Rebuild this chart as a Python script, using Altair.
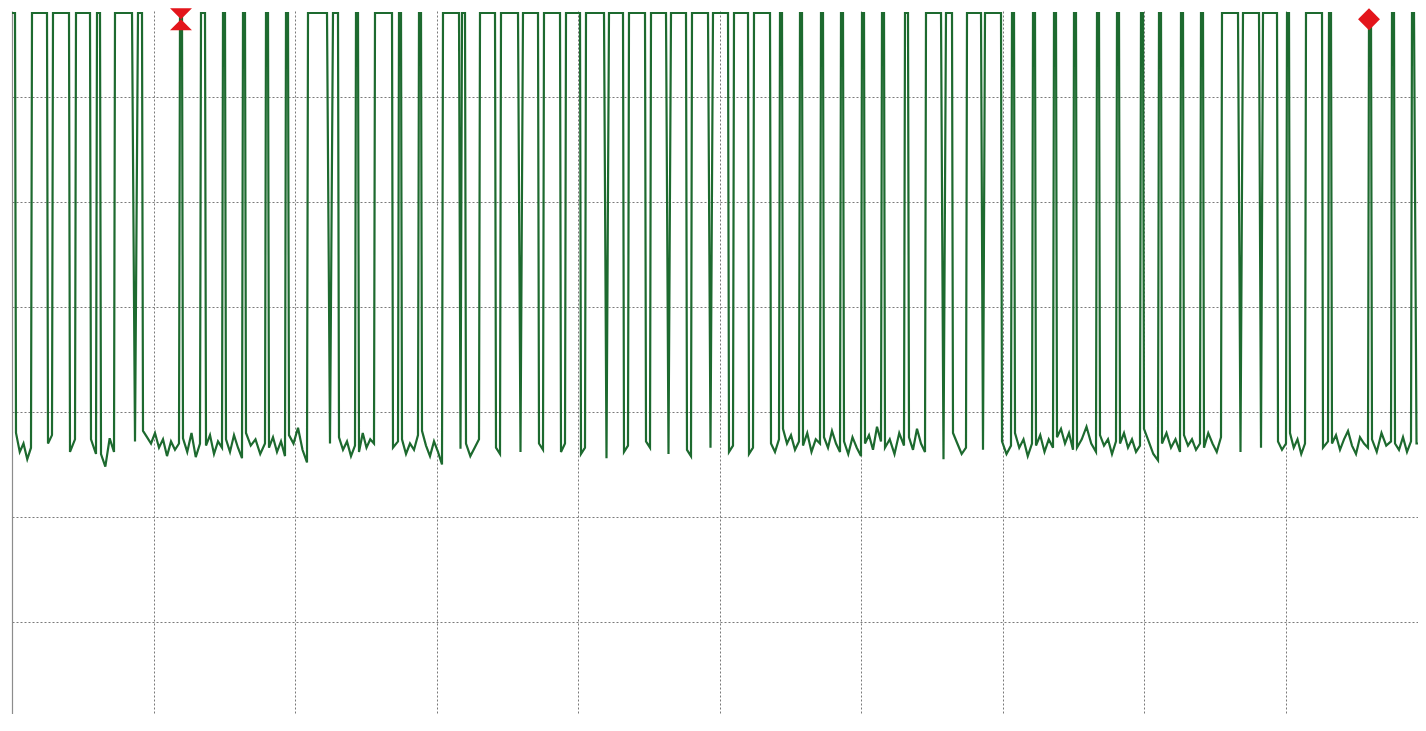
import altair as alt
import pandas as pd
import numpy as np

# ---- data (time in samples, level in divisions) ----
HIGH = 6.80
END = 1406

rise = [0, 20, 41, 64, 85, 103, 126, 168, 189, 211, 231, 254, 274, 296, 321, 344, 363, 387, 407, 431,
        450, 468, 489, 511, 532, 554, 574, 597, 617, 639, 659, 680, 701, 722, 742, 768, 788, 809, 829, 850,
        870, 893, 914, 934, 955, 973, 1000, 1021, 1042, 1062, 1085, 1105, 1129, 1147, 1169, 1189, 1210, 1231,
        1251, 1275, 1294, 1317, 1357, 1380, 1400]
fall = [3, 35, 57, 78, 88, 120, 130, 170, 193, 213, 233, 256, 276, 315, 326, 346, 380, 389, 409, 447,
        453, 483, 506, 526, 548, 568, 592, 611, 633, 654, 674, 696, 716, 736, 758, 770, 790, 811, 831, 852,
        872, 896, 929, 940, 969, 989, 1002, 1023, 1044, 1064, 1087, 1107, 1131, 1149, 1171, 1191, 1226, 1247,
        1265, 1277, 1310, 1319, 1359, 1382, 1402]

low_levels = [
    [2.80, 2.62, 2.70, 2.55, 2.66], [2.70, 2.78], [2.62, 2.74], [2.74, 2.60], [2.60, 2.48, 2.75, 2.62],
    [2.72], [2.82, 2.76, 2.70, 2.80, 2.66, 2.74, 2.58, 2.72, 2.64, 2.70], [2.75, 2.62, 2.80, 2.57, 2.70],
    [2.68, 2.78, 2.60, 2.72, 2.66], [2.74, 2.62, 2.78, 2.66, 2.56], [2.80, 2.68, 2.74, 2.60, 2.70],
    [2.66, 2.76, 2.62, 2.72, 2.58], [2.78, 2.70, 2.85, 2.64, 2.52], [2.70], [2.76, 2.64, 2.72, 2.58, 2.68],
    [2.62, 2.80, 2.66, 2.74, 2.70], [2.66, 2.72], [2.74, 2.60, 2.70, 2.64, 2.78],
    [2.82, 2.68, 2.58, 2.72, 2.62, 2.50], [2.65], [2.70, 2.58, 2.66, 2.74], [2.66, 2.60], [2.62],
    [2.70, 2.64], [2.62, 2.70], [2.60, 2.66], [2.56], [2.62, 2.68], [2.72, 2.66], [2.60], [2.64, 2.58],
    [2.66], [2.62, 2.68], [2.60, 2.66], [2.70, 2.62, 2.74], [2.84, 2.70, 2.78, 2.64, 2.72],
    [2.68, 2.80, 2.62, 2.74, 2.70], [2.76, 2.66, 2.82, 2.70, 2.62], [2.72, 2.60, 2.76, 2.66, 2.58],
    [2.70, 2.78, 2.64, 2.86, 2.72], [2.66, 2.74, 2.60, 2.80, 2.68], [2.76, 2.64, 2.84, 2.70, 2.62],
    [2.55], [2.80, 2.70, 2.60, 2.66], [2.64], [2.72, 2.60, 2.68], [2.80, 2.66, 2.74, 2.58, 2.70],
    [2.68, 2.78, 2.62, 2.74, 2.66], [2.76, 2.84, 2.70, 2.80, 2.64], [2.66, 2.74, 2.86, 2.70, 2.62],
    [2.78, 2.68, 2.74, 2.60, 2.72], [2.70, 2.80, 2.66, 2.74, 2.62, 2.68], [2.84, 2.72, 2.60, 2.54],
    [2.70, 2.80, 2.66, 2.74, 2.62], [2.78, 2.68, 2.74, 2.64, 2.70], [2.66, 2.80, 2.70, 2.62, 2.76],
    [2.62], [2.66], [2.72, 2.64, 2.70], [2.80, 2.66, 2.74, 2.60, 2.70], [2.66, 2.72],
    [2.70, 2.78, 2.64, 2.74, 2.82, 2.68, 2.60, 2.76, 2.70, 2.66], [2.74, 2.62, 2.80, 2.68, 2.72],
    [2.70, 2.64, 2.76, 2.62, 2.72], [2.70],
]

marker_t = [169, 1357]
marker_v = [6.74, 6.74]
marker_shape = ["M-1,-1L1,-1L-1,1L1,1Z", "diamond"]

# ---- build the trace table ----
ts, vs = [], []
for i in range(len(rise)):
    r, f = rise[i], fall[i]
    ts.append(r); vs.append(HIGH)
    ts.append(f); vs.append(HIGH)
    nxt = rise[i + 1] if i + 1 < len(rise) else END + 1
    lv = low_levels[i]
    if len(lv) == 1:
        pos = [(f + nxt) / 2.0]
    else:
        pos = list(np.linspace(f + 1, nxt - 1, len(lv)))
    for p, v in zip(pos, lv):
        ts.append(p); vs.append(v)
ts.append(END); vs.append(low_levels[-1][-1])

trace = pd.DataFrame({"t": ts, "v": vs, "i": range(len(ts))})
markers = pd.DataFrame({"t": marker_t, "v": marker_v, "shape": marker_shape})

grid_x = [141.5 * k for k in range(1, 10)]
grid_y = [1, 2, 3, 4, 5, 6]

x_enc = alt.X("t:Q", scale=alt.Scale(domain=[0, END], nice=False, zero=False),
              axis=alt.Axis(values=grid_x, labels=False, ticks=False, domain=True, domainColor="#8c8c8c",
                            domainWidth=1.2, title=None,
                            grid=True, gridColor="#7a7a7a", gridDash=[2, 2], gridWidth=1))
y_enc = alt.Y("v:Q", scale=alt.Scale(domain=[0.124, 6.819], nice=False, zero=False),
              axis=alt.Axis(values=grid_y, labels=False, ticks=False, domain=True, domainColor="#8c8c8c",
                            domainWidth=1.2, title=None,
                            grid=True, gridColor="#7a7a7a", gridDash=[2, 2], gridWidth=1))

line = alt.Chart(trace).mark_line(color="#1d6a2f", strokeWidth=2.2).encode(
    x=x_enc, y=y_enc, order=alt.Order("i:Q"))

pts = alt.Chart(markers).mark_point(filled=True, color="#e3151b", size=480, opacity=1).encode(
    x=x_enc, y=y_enc,
    shape=alt.Shape("shape:N", scale=alt.Scale(domain=marker_shape, range=marker_shape), legend=None))

chart = alt.layer(line, pts).properties(
    width=1406, height=703,
    background="white",
    autosize=alt.AutoSizeParams(type="none"),
    padding={"left": 4, "top": 3, "right": 0, "bottom": 0},
).configure_view(strokeWidth=0, stroke="transparent")

chart.save("out.html", embed_options={"renderer": "svg", "actions": False})
